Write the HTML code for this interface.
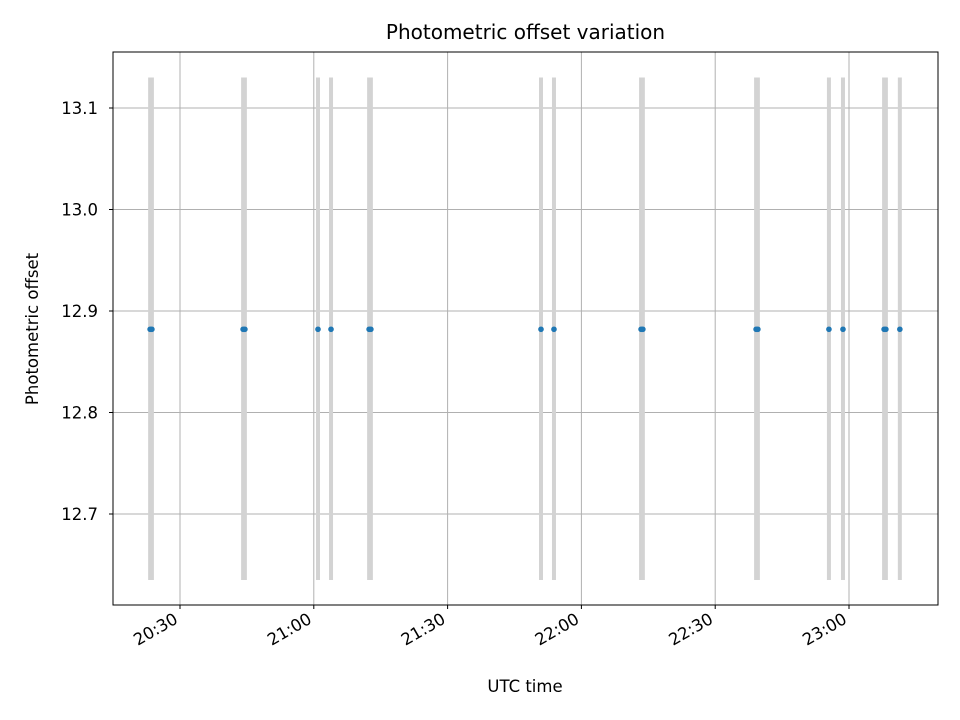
<!DOCTYPE html>
<html><head><meta charset="utf-8"><style>body{margin:0;background:#fff}svg{display:block;font-family:"DejaVu Sans","Liberation Sans",sans-serif}</style></head>
<body>
<svg id="c" width="960" height="720"></svg>
<script>
const times=[23.3,23.7,44.15,44.55,60.94,63.86,72.4,72.8,110.94,113.85,133.38,133.78,159.17,159.57,175.5,178.65,187.87,188.27,191.4];
const values=[12.882,12.882,12.882,12.882,12.882,12.882,12.882,12.882,12.882,12.882,12.882,12.882,12.882,12.882,12.882,12.882,12.882,12.882,12.882];
const errLow=[0.247,0.247,0.247,0.247,0.247,0.247,0.247,0.247,0.247,0.247,0.247,0.247,0.247,0.247,0.247,0.247,0.247,0.247,0.247];
const errHigh=[0.248,0.248,0.248,0.248,0.248,0.248,0.248,0.248,0.248,0.248,0.248,0.248,0.248,0.248,0.248,0.248,0.248,0.248,0.248];
const xTicks=[30,60,90,120,150,180];
const xTickLabels=["20:30","21:00","21:30","22:00","22:30","23:00"];
const yTicks=[12.7,12.8,12.9,13.0,13.1];
const yTickLabels=["12.7","12.8","12.9","13.0","13.1"];
const L=113,R=938,T=52,B=605;
const X=t=>180+(t-30)*133.8/30;
const Y=v=>311-(v-12.9)*1015;
const s=document.getElementById('c'),NS='http://www.w3.org/2000/svg';
function mk(tag,a,p){const e=document.createElementNS(NS,tag);for(const k in a)e.setAttribute(k,a[k]);(p||s).appendChild(e);return e;}
let e;
xTicks.forEach((t,i)=>{
 e=mk('line',{x1:X(t),x2:X(t),y1:T,y2:B,stroke:'#b0b0b0','stroke-width':1});
 
 e=mk('line',{x1:X(t),x2:X(t),y1:B,y2:B+4,stroke:'#000','stroke-width':1});
 
 const ax=X(t)-4, ay=B+12;
 e=mk('text',{x:ax,y:ay+6,'font-size':16.5,'text-anchor':'end',transform:`rotate(-30 ${ax} ${ay})`});
 e.textContent=xTickLabels[i];
 
});
yTicks.forEach((v,i)=>{
 e=mk('line',{x1:L-4,x2:R,y1:Y(v),y2:Y(v),stroke:'#b0b0b0','stroke-width':1});
 
 e=mk('line',{x1:L-4,x2:L,y1:Y(v),y2:Y(v),stroke:'#000','stroke-width':1});
 
 e=mk('text',{x:L-15,y:Y(v)+6,'font-size':16.5,'text-anchor':'end'});
 e.textContent=yTickLabels[i];
 
});
times.forEach((t,i)=>{
 e=mk('line',{x1:X(t),x2:X(t),y1:Y(values[i]+errHigh[i]),y2:Y(values[i]-errLow[i]),stroke:'#d3d3d3','stroke-width':4});
 
});
times.forEach((t,i)=>{
 e=mk('circle',{cx:X(t),cy:Y(values[i]),r:2.8,fill:'#1f77b4'});
 
});
e=mk('rect',{x:L,y:T,width:R-L,height:B-T,fill:'none',stroke:'#000','stroke-width':1});

e=mk('text',{x:(L+R)/2,y:39,'font-size':20,'text-anchor':'middle'});e.textContent='Photometric offset variation';

e=mk('text',{x:525,y:692,'font-size':16.5,'text-anchor':'middle'});e.textContent='UTC time';

e=mk('text',{x:38,y:329,'font-size':16.5,'text-anchor':'middle',transform:'rotate(-90 38 329)'});e.textContent='Photometric offset';

</script>
</body></html>
